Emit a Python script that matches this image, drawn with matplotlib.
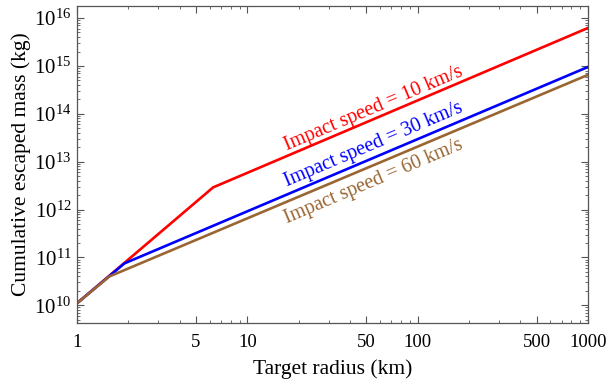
import matplotlib
matplotlib.use('Agg')
import matplotlib.pyplot as plt
from matplotlib.ticker import FixedLocator, LogLocator, NullFormatter, FixedFormatter

plt.rcParams['font.family'] = ['Liberation Serif', 'DejaVu Serif']
plt.rcParams['mathtext.fontset'] = 'stix'

# data (knee points of each curve)
r_10 = [1, 6.3, 1000]
m_10 = [1.1e10, 2.9e12, 6.2e15]
r_30 = [1, 1.9, 1000]
m_30 = [1.1e10, 7.5e10, 9.5e14]
r_60 = [1, 1.55, 1000]
m_60 = [1.1e10, 4.0e10, 6.5e14]

labels = ['Impact speed = 10 km/s', 'Impact speed = 30 km/s', 'Impact speed = 60 km/s']
colors = ['#ff0000', '#0000ff', '#996633']
x_ticks = [1, 5, 10, 50, 100, 500, 1000]

fig = plt.figure(figsize=(6.08, 3.88), dpi=100)
ax = fig.add_axes([0.1266, 0.168, 0.8404, 0.817])

for r, m, c in zip([r_10, r_30, r_60], [m_10, m_30, m_60], colors):
    ax.plot(r, m, color=c, lw=1.9, solid_joinstyle='miter')

ax.set_xscale('log')
ax.set_yscale('log')
ax.set_xlim(1, 1000)
ax.set_ylim(4.3e9, 1.8e16)

# labels along the lines
for (x, y), txt, c in zip([(55, 10**14.1), (55, 10**13.35), (55, 10**12.58)], labels, colors):
    ax.text(x, y, txt, color=c, fontsize=14.5, rotation=23, ha='center', va='center')

ax.xaxis.set_major_locator(FixedLocator(x_ticks))
ax.xaxis.set_major_formatter(FixedFormatter([str(t) for t in x_ticks]))
ax.xaxis.set_minor_locator(LogLocator(base=10, subs=range(2, 10)))
ax.xaxis.set_minor_formatter(NullFormatter())
ax.yaxis.set_major_locator(LogLocator(base=10, numticks=20))
ax.yaxis.set_minor_locator(LogLocator(base=10, subs=range(2, 10), numticks=20))
ax.yaxis.set_minor_formatter(NullFormatter())

ax.tick_params(which='both', direction='in', top=True, right=True, colors='#555555', labelcolor='black')
ax.tick_params(which='major', length=5, width=0.8)
ax.tick_params(which='minor', length=2.5, width=0.6)
ax.tick_params(axis='x', pad=8, labelsize=13.5)
ax.tick_params(axis='y', pad=4, labelsize=15)
for s in ax.spines.values():
    s.set_color('#555555')
    s.set_linewidth(0.9)

ax.set_xlabel('Target radius (km)', fontsize=15.5, labelpad=6)
ax.set_ylabel('Cumulative escaped mass (kg)', fontsize=15.5, labelpad=2)

fig.savefig('out.png', dpi=100)
